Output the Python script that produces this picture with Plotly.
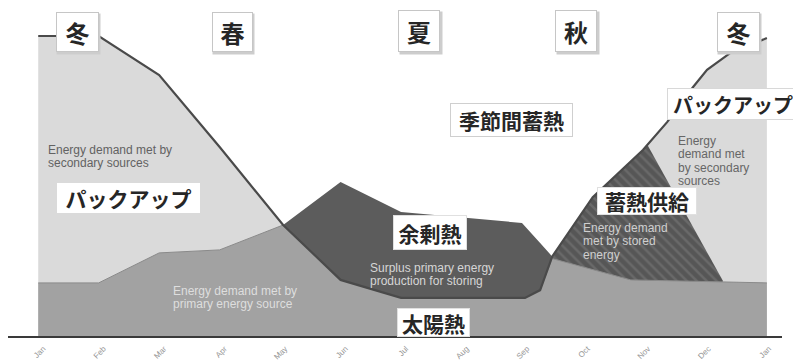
import plotly.graph_objects as go

# ---------------- data ----------------
months = ["Jan", "Feb", "Mar", "Apr", "May", "Jun", "Jul", "Aug", "Sep", "Oct", "Nov", "Dec", "Jan"]
month_idx = list(range(13))

# total heat demand (top line)
demand_x = [0, 1, 2, 3, 4.05, 5.0, 6.0, 7.1, 8.05, 8.3, 8.5, 9.17, 10.0, 10.4, 10.83, 11.06, 11.44, 12.05]
demand_y = [100, 100, 87, 63, 37, 18.7, 12.7, 12.7, 12.7, 15.3, 26.5, 46.3, 62, 71.3, 83, 88.7, 94.3, 99.3]

# primary (solar) production during the surplus period
production_x = [4.05, 5.0, 6.0, 7.1, 8.0, 8.3, 8.5]
production_y = [37, 51.3, 41.3, 39.3, 37.7, 31, 26.5]

# demand met directly by primary energy (top of mid-grey area)
primary_x = [0, 1.0, 2.0, 3.0, 4.05, 5.0, 6.0, 7.1, 8.05, 8.3, 8.5, 9.8, 12.05]
primary_y = [17.7, 17.7, 27.7, 28.7, 37, 18.7, 12.7, 12.7, 12.7, 15.3, 25.8, 18.7, 17.7]

# demand met by stored energy (top of hatched area)
stored_x = [8.5, 9.17, 10.08, 10.73, 11.32]
stored_y = [26.5, 46.3, 63.5, 40, 18.5]

# ---------------- geometry helpers (page pixel -> data) ----------------
OFF = 8                       # default page margin around the plotly div
W, H = 801 - OFF, 363 - OFF
L_PX, R_PX = 8, 782           # page x of plot-area edges
BASE_PY, TOP_PY = 336, 8      # page y of baseline / plot-area top
X_MIN, X_MAX = -0.5, 12.3
Y_MIN, Y_MAX = 0, (BASE_PY - TOP_PY) / 3.0


def X(px):
    return X_MIN + (px - L_PX) / (R_PX - L_PX) * (X_MAX - X_MIN)


def Y(py):
    return Y_MIN + (BASE_PY - py) / (BASE_PY - TOP_PY) * (Y_MAX - Y_MIN)


LIGHT = "#dadada"
MID = "#a2a2a2"
DARK = "#5c5c5c"
HATCH_BG = "#565656"
HATCH_FG = "#7c7c7c"
LINE = "#4a4a4a"

fig = go.Figure()
fig.add_trace(go.Scatter(x=demand_x, y=demand_y, mode="lines", fill="tozeroy",
                         fillcolor=LIGHT, line=dict(width=0), hoverinfo="skip"))
fig.add_trace(go.Scatter(x=production_x, y=production_y, mode="lines", fill="tozeroy",
                         fillcolor=DARK, line=dict(width=0), hoverinfo="skip"))
fig.add_trace(go.Scatter(x=stored_x, y=stored_y, mode="lines", fill="tozeroy",
                         fillcolor=HATCH_BG,
                         fillpattern=dict(shape="\\", bgcolor=HATCH_BG, fgcolor=HATCH_FG,
                                          size=7, solidity=0.35),
                         line=dict(width=0), hoverinfo="skip"))
fig.add_trace(go.Scatter(x=primary_x, y=primary_y, mode="lines", fill="tozeroy",
                         fillcolor=MID, line=dict(width=1, color="#8a8a8a"), hoverinfo="skip"))
fig.add_trace(go.Scatter(x=demand_x, y=demand_y, mode="lines",
                         line=dict(width=2.2, color=LINE), hoverinfo="skip"))

JP = "Noto Sans CJK JP"
EN = "Liberation Sans, Arial, sans-serif"
ann = []


def box(px, py, text, w, h, size, border="#c6c6c6", bw=1, shadow=False):
    if shadow:
        ann.append(dict(x=X(px), y=Y(py), xref="x", yref="y", text=" ", showarrow=False,
                        width=w, height=h, bgcolor="#cdcdcd", borderpad=0,
                        xanchor="center", yanchor="middle", xshift=1.5, yshift=-2))
    ann.append(dict(x=X(px), y=Y(py), xref="x", yref="y", text="<b>%s</b>" % text,
                    showarrow=False, width=w - 2 * bw, height=h - 2 * bw, borderpad=0,
                    bgcolor="white", bordercolor=border, borderwidth=bw,
                    font=dict(family=JP, size=size, color="#262626"),
                    xanchor="center", yanchor="middle", align="center", valign="middle"))


def lines(px, py0, rows, color, size=12, step=13.3):
    for i, r in enumerate(rows):
        ann.append(dict(x=X(px), y=Y(py0 + i * step), xref="x", yref="y", text=r,
                        showarrow=False, xanchor="left", yanchor="middle", borderpad=0,
                        font=dict(family=EN, size=size, color=color)))


# English descriptions
lines(47, 150, ["Energy demand met by", "secondary sources"], "#626262")
lines(172, 291, ["Energy demand met by", "primary energy source"], "#dedede")
lines(369, 268, ["Surplus primary energy", "production for storing"], "#d6d6d6")
lines(582, 228, ["Energy demand", "met by stored", "energy"], "#cfcfcf")
lines(677, 141, ["Energy", "demand met", "by secondary", "sources"], "#666666")

# season labels
box(77, 32, "冬", 43, 40, 24, shadow=True)
box(232, 32, "春", 41, 40, 24, shadow=True)
box(419, 31, "夏", 42, 42, 24, shadow=True)
box(576, 31, "秋", 42, 42, 24, shadow=True)
box(738, 32, "冬", 43, 40, 24, shadow=True)

# Japanese region labels
box(128.5, 198, "パックアップ", 143, 30, 21, bw=0)
box(511.5, 120, "季節間蓄熱", 123, 34, 21, border="#cfcfcf")
box(733, 104, "パックアップ", 132, 32, 20, border="#d8d8d8")
box(430, 232.5, "余剰熱", 74, 35, 21, border="#e0e0e0")
box(433.5, 322.5, "太陽熱", 73, 29, 21, border="#e0e0e0")
box(647, 201, "蓄熱供給", 100, 28, 21, border="#e0e0e0")

fig.update_layout(
    width=W, height=H, autosize=False,
    margin=dict(l=L_PX - OFF, r=(W + OFF) - R_PX, t=TOP_PY - OFF, b=(H + OFF) - BASE_PY, pad=0),
    paper_bgcolor="white", plot_bgcolor="white",
    showlegend=False, annotations=ann,
    xaxis=dict(range=[X_MIN, X_MAX], showgrid=False, zeroline=False, showline=True,
               automargin=False,
               linecolor="#3a3a3a", linewidth=2, ticks="", tickvals=month_idx,
               ticktext=months, tickangle=-45, ticklabelstandoff=3, ticklabelshift=5,
               tickfont=dict(family=EN, size=8, color="#959595"), fixedrange=True),
    yaxis=dict(range=[Y_MIN, Y_MAX], visible=False, fixedrange=True, automargin=False),
)

fig.write_html("out.html")
